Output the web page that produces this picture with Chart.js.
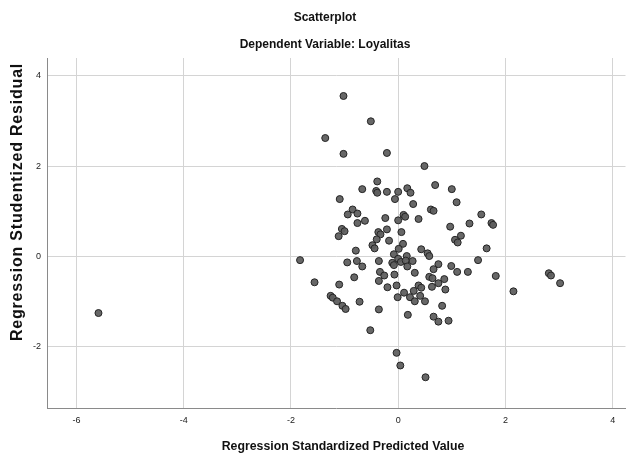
<!DOCTYPE html>
<html>
<head>
<meta charset="utf-8">
<script src="https://cdn.jsdelivr.net/npm/chart.js@4.4.1/dist/chart.umd.min.js"></script>
<style>
  body { margin: 0; background: #fff; }
  #wrap { width: 630px; height: 459px; }
</style>
</head>
<body>
<div id="wrap"><canvas id="myChart" width="630" height="459"></canvas></div>
<script>
// regression standardized predicted value (x)
const predicted = [
    -1.02, -0.51, -1.36, -1.02, -0.21, 0.49,
    -5.59, -1.83,
    -0.39, -0.67, -0.41, -0.39, -0.21, 0.00, -0.06, 0.17, 0.23, -1.09, 0.28, -0.85, -0.94, -0.76,
    -0.24, -0.62, -0.76, 0.00, 0.10, 0.13, 0.38, -1.05, -1.00, -1.11, -0.37, -0.33, -0.21, 0.06,
    -0.40, -0.17, 0.09, -0.48, -0.44, -0.79, 0.43, 0.01, -0.08, 0.55, 0.58, -0.95, -0.77, -0.67,
    -0.36, -0.11, -0.08, 0.00, 0.05, 0.16, 0.14, 0.17, 0.27,
    0.69, 1.00, 1.09, 0.61, 0.66, 1.55, 1.33, 0.97, 1.74, 1.77, 1.17, 1.06, 1.11, 1.65, 1.49,
    0.75, 0.66, 0.99,
    -1.56, -1.10, -0.82, -0.34, -0.26, -0.07, 0.31, -0.36, -0.20, -0.03, -0.01, 0.11, 0.22, 0.29,
    0.31, 0.38, 0.43, 0.41, 0.50, 0.58, -1.26, -1.22, -1.14, -1.04, -0.98, -0.72, -0.36, 0.18,
    -0.52, -0.03, 0.04, 0.51,
    0.64, 0.75, 0.86, 0.88, 0.63, 1.10, 1.30, 1.82, 0.82, 0.66, 0.75, 0.94, 2.15, 2.81, 2.85, 3.02
]
// regression studentized residual (y)
const residual = [
    3.55, 2.99, 2.62, 2.27, 2.29, 2.00,
    -1.25, -0.08,
    1.66, 1.49, 1.45, 1.41, 1.43, 1.43, 1.27, 1.51, 1.41, 1.27, 1.16, 1.04, 0.93, 0.95,
    0.85, 0.79, 0.74, 0.80, 0.92, 0.88, 0.83, 0.61, 0.56, 0.45, 0.54, 0.49, 0.60, 0.54,
    0.38, 0.35, 0.28, 0.25, 0.18, 0.13, 0.16, 0.17, 0.05, 0.07, 0.01, -0.13, -0.10, -0.22,
    -0.10, -0.14, -0.19, -0.05, -0.12, 0.01, -0.09, -0.22, -0.10,
    1.58, 1.49, 1.20, 1.04, 1.01, 0.93, 0.73, 0.66, 0.74, 0.70, 0.46, 0.37, 0.31, 0.18, -0.08,
    -0.17, -0.28, -0.21,
    -0.57, -0.62, -0.46, -0.34, -0.42, -0.40, -0.36, -0.54, -0.68, -0.64, -0.90, -0.80, -0.90, -0.76,
    -0.99, -0.64, -0.69, -0.87, -0.99, -0.45, -0.87, -0.91, -0.99, -1.09, -1.16, -1.00, -1.17, -1.29,
    -1.63, -2.13, -2.41, -2.67,
    -0.48, -0.59, -0.50, -0.73, -0.67, -0.34, -0.34, -0.43, -1.09, -1.33, -1.44, -1.42, -0.77, -0.37, -0.42, -0.59
]
const xTicks = [-6, -4, -2, 0, 2, 4]
const yTicks = [-2, 0, 2, 4]

const title = 'Scatterplot'
const subTitle = 'Dependent Variable: Loyalitas'
const xTitle = 'Regression Standardized Predicted Value'
const yTitle = 'Regression Studentized Residual'

const FONT = '"Liberation Sans", Arial, sans-serif'

let points = []
for (let i = 0; i < predicted.length; i++) {
    points.push({ x: predicted[i], y: residual[i] })
}

// ve tieu de bang tay de dat dung vi tri
const textPlugin = {
    id: 'texts',
    afterDraw(chart) {
        const ctx = chart.ctx
        ctx.save()
        ctx.fillStyle = '#111'
        ctx.textAlign = 'center'
        ctx.textBaseline = 'middle'
        ctx.font = 'bold 12px ' + FONT
        ctx.fillText(title, 325, 18)
        ctx.fillText(subTitle, 325, 45)
        ctx.font = 'bold 12.3px ' + FONT
        ctx.fillText(xTitle, 343, 447)
        ctx.translate(18, 202)
        ctx.rotate(-Math.PI / 2)
        ctx.font = 'bold 16px ' + FONT
        ctx.letterSpacing = '0.8px'
        ctx.fillText(yTitle, 0, 0)
        ctx.restore()
    }
}

const ctx = document.getElementById('myChart').getContext('2d')
const myChart = new Chart(ctx, {
    type: 'scatter',
    data: {
        datasets: [{
            data: points,
            pointRadius: 3.5,
            pointHoverRadius: 3.5,
            backgroundColor: 'rgba(95, 95, 95, 0.95)',
            borderColor: '#242424',
            borderWidth: 1
        }]
    },
    options: {
        responsive: false,
        animation: false,
        layout: { padding: { top: 58, right: 0, left: 0, bottom: 0 } },
        plugins: {
            legend: { display: false },
            tooltip: { enabled: false }
        },
        scales: {
            x: {
                type: 'linear',
                min: -6.55,
                max: 4.24,
                afterBuildTicks: s => { s.ticks = xTicks.map(v => ({ value: v })) },
                afterFit: s => { s.height = 51 },
                grid: { color: '#d4d4d4', lineWidth: 1, drawTicks: false },
                border: { color: '#8a8a8a', width: 1 },
                ticks: { padding: 7, color: '#222', font: { family: FONT, size: 9 } }
            },
            y: {
                type: 'linear',
                min: -3.35,
                max: 4.39,
                afterBuildTicks: s => { s.ticks = yTicks.map(v => ({ value: v })) },
                afterFit: s => { s.width = 47 },
                grid: { color: '#d4d4d4', lineWidth: 1, drawTicks: false },
                border: { color: '#8a8a8a', width: 1 },
                ticks: { padding: 6, color: '#222', font: { family: FONT, size: 9 } }
            }
        }
    },
    plugins: [textPlugin]
})
</script>
</body>
</html>
